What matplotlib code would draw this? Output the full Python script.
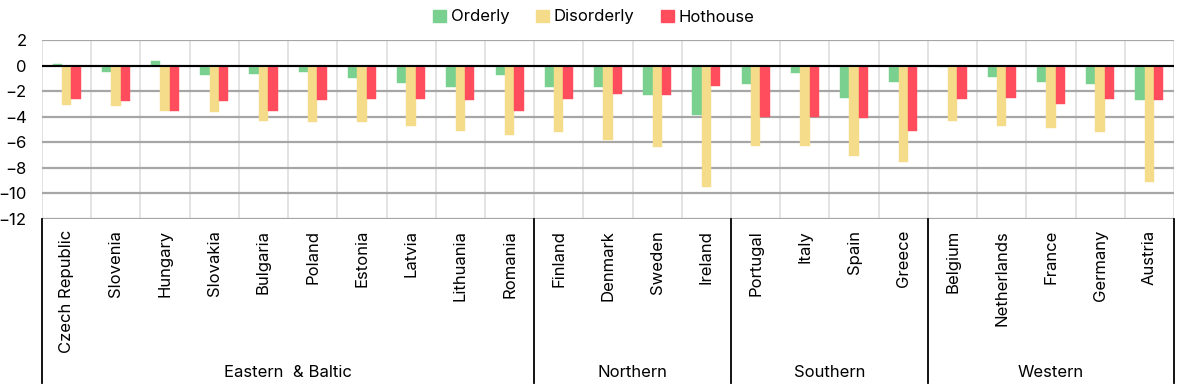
import matplotlib
matplotlib.use("Agg")
import matplotlib.pyplot as plt
import matplotlib.transforms as mtransforms
from matplotlib.patches import Patch
import numpy as np

plt.rcParams['font.family'] = ['Inter', 'DejaVu Sans']

countries = ["Czech Republic", "Slovenia", "Hungary", "Slovakia", "Bulgaria", "Poland",
             "Estonia", "Latvia", "Lithuania", "Romania",
             "Finland", "Denmark", "Sweden", "Ireland",
             "Portugal", "Italy", "Spain", "Greece",
             "Belgium", "Netherlands", "France", "Germany", "Austria"]
groups = ["Eastern  & Baltic", "Northern", "Southern", "Western"]
group_sizes = [10, 4, 4, 5]

orderly = [0.15, -0.47, 0.36, -0.75, -0.68, -0.47, -0.99, -1.35, -1.69, -0.75,
           -1.67, -1.69, -2.29, -3.85,
           -1.43, -0.57, -2.55, -1.30,
           -0.10, -0.89, -1.28, -1.43, -2.73]
disorderly = [-3.10, -3.20, -3.54, -3.65, -4.35, -4.43, -4.45, -4.74, -5.08, -5.42,
              -5.20, -5.86, -6.38, -9.48,
              -6.30, -6.30, -7.08, -7.55,
              -4.32, -4.69, -4.92, -5.18, -9.09]
hothouse = [-2.60, -2.80, -3.54, -2.80, -3.57, -2.70, -2.60, -2.63, -2.70, -3.57,
            -2.58, -2.24, -2.32, -1.59,
            -4.01, -4.00, -4.10, -5.13,
            -2.58, -2.53, -3.02, -2.58, -2.68]
series_names = ["Orderly", "Disorderly", "Hothouse"]
colors = ["#7ad18f", "#f5dc8a", "#ff4d5e"]

FS = 12

fig = plt.figure(figsize=(11.9, 3.9), dpi=100)
W, H = 1190, 390
L, R, T, B = 42, 1174, 40, 219
ax = fig.add_axes([L / W, (H - B) / H, (R - L) / W, (B - T) / H])

n = len(countries)
x = np.arange(n)
bw = 0.19
for i, (vals, c, nm) in enumerate(zip([orderly, disorderly, hothouse], colors, series_names)):
    ax.bar(x + (i - 1) * bw, vals, width=bw, color=c, label=nm, zorder=3,
           edgecolor=c, linewidth=0.3)

ax.set_xlim(-0.5, n - 0.5)
ax.set_ylim(-12, 2)
ax.set_yticks(np.arange(-12, 3, 2))
ax.yaxis.grid(True, color="#a6a6a6", linewidth=1.6, zorder=1)
ax.set_xticks(np.arange(-0.5, n, 1.0), minor=True)
ax.xaxis.grid(True, which="minor", color="#dedede", linewidth=1.2, zorder=1)
ax.xaxis.grid(False, which="major")
ax.axhline(0, color="black", linewidth=1.5, zorder=4)
for s in ax.spines.values():
    s.set_visible(False)
ax.tick_params(axis="both", which="both", length=0)
ax.tick_params(axis="y", labelsize=FS, pad=11)
ax.set_xticks(x)
ax.set_xticklabels(countries, rotation=90, fontsize=FS, va="top")
ax.tick_params(axis="x", pad=8)

trans = mtransforms.blended_transform_factory(ax.transData, ax.transAxes)
bottom_frac = (B - 383) / (B - T)
label_frac = (B - 373) / (B - T)
start = -0.5
bounds = [start]
for g, sz in zip(groups, group_sizes):
    end = start + sz
    ax.text((start + end) / 2, label_frac, g, transform=trans, ha="center", va="center",
            fontsize=FS)
    start = end
    bounds.append(end)
for b in bounds:
    ax.plot([b, b], [0, bottom_frac], transform=trans, color="black", linewidth=1.3,
            clip_on=False, zorder=5)

handles = [Patch(facecolor=c, edgecolor=c, label=nm) for c, nm in zip(colors, series_names)]
fig.legend(handles=handles, loc="center", bbox_to_anchor=(594 / W, 1 - 17 / H), ncol=3,
           frameon=False, fontsize=FS, handlelength=0.75, handleheight=0.75,
           handletextpad=0.3, columnspacing=1.6)

fig.savefig("out.png", dpi=100)
